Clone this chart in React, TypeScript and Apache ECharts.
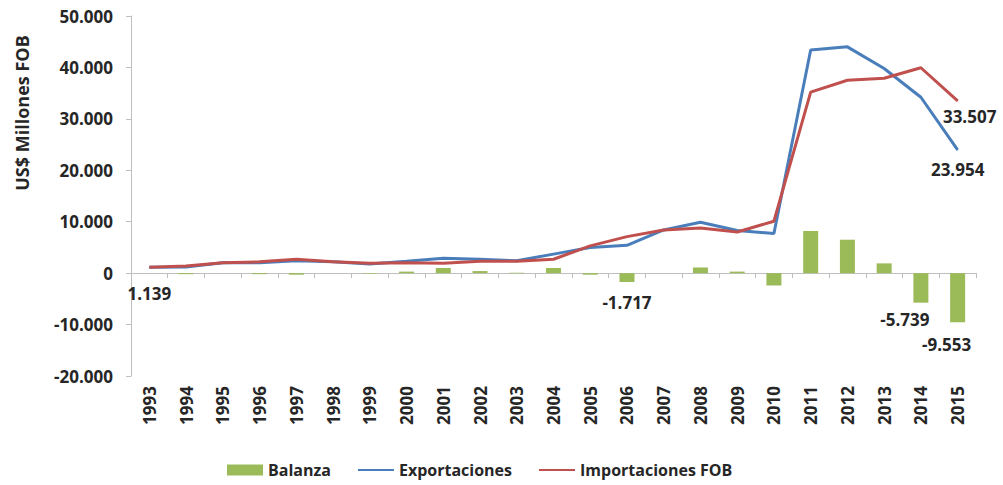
import React, { useEffect, useRef } from "react";
import * as echarts from "echarts";

const years = ["1993","1994","1995","1996","1997","1998","1999","2000","2001","2002","2003","2004","2005","2006","2007","2008","2009","2010","2011","2012","2013","2014","2015"];
const balanza = [0, -200, 0, -200, -300, 0, -100, 300, 1000, 400, 100, 1000, -300, -1717, 0, 1100, 300, -2400, 8200, 6500, 1900, -5739, -9553];
const exportaciones = [1139, 1200, 2000, 2000, 2400, 2200, 1800, 2300, 2900, 2700, 2400, 3700, 5000, 5400, 8400, 9900, 8300, 7700, 43400, 44000, 39800, 34200, 23954];
const importaciones = [1139, 1400, 2000, 2200, 2700, 2200, 1900, 2000, 1900, 2300, 2300, 2700, 5300, 7100, 8400, 8800, 8000, 10100, 35200, 37500, 37900, 39939, 33507];
const yTicks = { min: -20000, max: 50000, interval: 10000 };

const FONT = "Open Sans";
const TXT = "#262626";

function fmt(v: number): string {
  const s = Math.abs(Math.round(v)).toString().replace(/\B(?=(\d{3})+(?!\d))/g, ".");
  return (v < 0 ? "-" : "") + s;
}

const lbl = (extra: any) => ({
  show: true,
  formatter: (p: any) => fmt(p.value),
  fontFamily: FONT,
  fontWeight: "bold",
  fontSize: 17,
  color: TXT,
  ...extra,
});

export default function App() {
  const ref = useRef<HTMLDivElement>(null);
  useEffect(() => {
    if (!ref.current) return;
    const chart = echarts.init(ref.current, null, { renderer: "svg" });
    const balData = balanza.map((v, i) => {
      if (i === 13) return { value: v, label: lbl({ position: "bottom", distance: 12 }) };
      if (i === 21) return { value: v, label: lbl({ position: "bottom", distance: 8, offset: [-16, 0] }) };
      if (i === 22) return { value: v, label: lbl({ position: "bottom", distance: 14, offset: [-11, 0] }) };
      return v;
    });
    const expData = exportaciones.map((v, i) => {
      if (i === 0) return { value: v, symbolSize: 1, label: lbl({ position: "bottom", distance: 17 }) };
      if (i === 22) return { value: v, symbolSize: 1, label: lbl({ position: "bottom", distance: 11 }) };
      return v;
    });
    const impData = importaciones.map((v, i) => {
      if (i === 22) return { value: v, symbolSize: 1, label: lbl({ position: "bottom", distance: 7, offset: [12, 0] }) };
      return v;
    });
    chart.setOption({
      animation: false,
      backgroundColor: "#ffffff",
      textStyle: { fontFamily: FONT },
      grid: { left: 131, right: 27, top: 16, bottom: 109, containLabel: false },
      legend: {
        top: 457,
        left: 222,
        itemGap: 26,
        itemWidth: 36,
        itemHeight: 11,
        textStyle: { fontFamily: FONT, fontWeight: "bold", fontSize: 16, color: TXT },
        data: [
          { name: "Balanza", icon: "rect" },
          { name: "Exportaciones", itemStyle: { opacity: 0 } },
          { name: "Importaciones FOB", itemStyle: { opacity: 0 } },
        ],
      },
      graphic: [
        {
          type: "text",
          x: 22,
          y: 113,
          rotation: Math.PI / 2,
          style: {
            text: "US$ Millones FOB",
            fontFamily: FONT,
            fontWeight: "bold",
            fontSize: 18,
            fill: TXT,
            textAlign: "center",
            textVerticalAlign: "middle",
          },
        },
      ],
      xAxis: [
        {
          type: "category",
          data: years,
          boundaryGap: true,
          axisLine: { show: true, onZero: true, lineStyle: { color: "#bfbfbf", width: 1 } },
          axisTick: { show: true, length: 5, lineStyle: { color: "#bfbfbf" } },
          axisLabel: { show: false },
          splitLine: { show: false },
        },
        {
          type: "category",
          data: years,
          position: "bottom",
          boundaryGap: true,
          axisLine: { show: false, onZero: false },
          axisTick: { show: false },
          axisLabel: {
            show: true,
            rotate: 90,
            margin: 10,
            interval: 0,
            fontFamily: FONT,
            fontWeight: "bold",
            fontSize: 17,
            color: TXT,
          },
          splitLine: { show: false },
        },
      ],
      yAxis: {
        type: "value",
        min: yTicks.min,
        max: yTicks.max,
        interval: yTicks.interval,
        axisLine: { show: true, lineStyle: { color: "#bfbfbf" } },
        axisTick: { show: true, length: 5, lineStyle: { color: "#bfbfbf" } },
        splitLine: { show: false },
        axisLabel: {
          formatter: (v: number) => fmt(v),
          fontFamily: FONT,
          fontWeight: "bold",
          fontSize: 17,
          color: TXT,
          margin: 18,
        },
      },
      series: [
        {
          name: "Balanza",
          type: "bar",
          xAxisIndex: 0,
          data: balData,
          barWidth: 15,
          itemStyle: { color: "#9bbb59" },
          z: 1,
        },
        {
          name: "Exportaciones",
          type: "line",
          xAxisIndex: 0,
          data: expData,
          symbol: "circle",
          symbolSize: 0,
          showSymbol: true,
          lineStyle: { color: "#4a7ebb", width: 3 },
          itemStyle: { color: "#4a7ebb" },
          z: 3,
        },
        {
          name: "Importaciones FOB",
          type: "line",
          xAxisIndex: 0,
          data: impData,
          symbol: "circle",
          symbolSize: 0,
          showSymbol: true,
          lineStyle: { color: "#c0504d", width: 3 },
          itemStyle: { color: "#c0504d" },
          z: 4,
        },
      ],
    });
    return () => chart.dispose();
  }, []);
  return (
    <div
      ref={ref}
      style={{ position: "absolute", left: 0, top: 0, width: 1003, height: 485, background: "#fff" }}
    />
  );
}
